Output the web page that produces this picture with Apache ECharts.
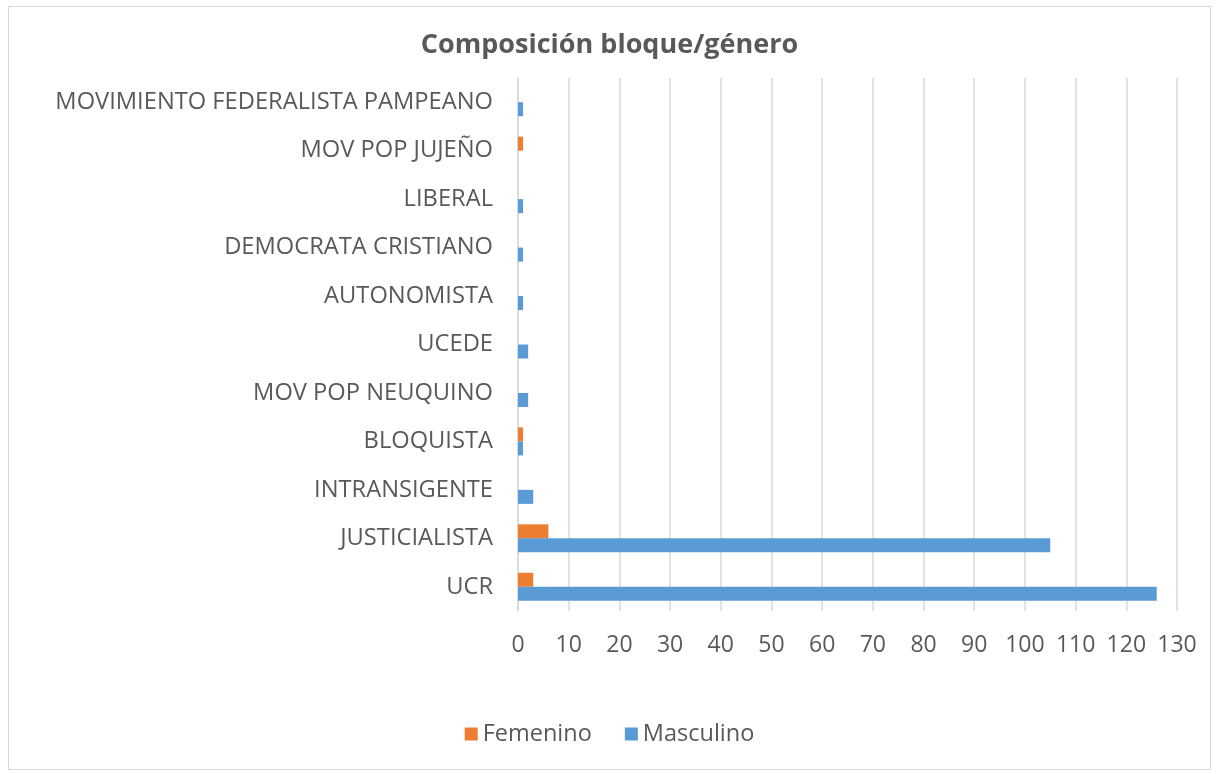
<!DOCTYPE html>
<html>
<head>
<meta charset="utf-8">
<script src="https://cdn.jsdelivr.net/npm/echarts@6/dist/echarts.min.js"></script>
<style>
    html, body { margin: 0; padding: 0; background: #fff; }
    #chart { position: absolute; left: 8px; top: 6px; width: 1203px; height: 764px; border: 1px solid #d9d9d9; box-sizing: border-box; }
</style>
</head>
<body>
<div id="chart"></div>
<script>
// 类别（从下到上）
const bloques = ['UCR', 'JUSTICIALISTA', 'INTRANSIGENTE', 'BLOQUISTA', 'MOV POP NEUQUINO', 'UCEDE',
    'AUTONOMISTA', 'DEMOCRATA CRISTIANO', 'LIBERAL', 'MOV POP JUJEÑO', 'MOVIMIENTO FEDERALISTA PAMPEANO']
const femenino = [3, 6, 0, 1, 0, 0, 0, 0, 0, 1, 0]
const masculino = [126, 105, 3, 1, 2, 2, 1, 1, 1, 0, 1]
const seriesNames = ['Femenino', 'Masculino']

const fontFamily = '"Open Sans", Lato, sans-serif'
const textColor = '#595959'
const gridColor = '#d9d9d9'

const chartIns = echarts.init(document.getElementById('chart'))
const option = {
    animation: false,
    title: {
        text: 'Composición bloque/género',
        left: 'center',
        top: 20,
        textStyle: { fontFamily, fontSize: 27, fontWeight: 'bold', color: textColor }
    },
    legend: {
        data: seriesNames,
        bottom: 18,
        left: 'center',
        icon: 'rect',
        itemWidth: 13,
        itemHeight: 13,
        itemGap: 33,
        textStyle: { fontFamily, fontSize: 23.5, color: textColor }
    },
    grid: {
        left: 509,
        right: 33,
        top: 71,
        bottom: 158
    },
    xAxis: {
        type: 'value',
        min: 0,
        max: 130,
        interval: 10,
        axisLine: { show: false },
        axisTick: { show: false },
        axisLabel: { fontFamily, fontSize: 23, color: textColor, margin: 23 },
        splitLine: { lineStyle: { color: gridColor, width: 1.5 } }
    },
    yAxis: {
        type: 'category',
        data: bloques,
        axisLine: { lineStyle: { color: gridColor, width: 1.5 } },
        axisTick: { show: false },
        axisLabel: { fontFamily, fontSize: 23.7, color: textColor, margin: 25 }
    },
    series: [
        {
            name: seriesNames[0],
            type: 'bar',
            data: femenino,
            barWidth: 14,
            barGap: '0%',
            itemStyle: { color: '#ED7D31' }
        },
        {
            name: seriesNames[1],
            type: 'bar',
            data: masculino,
            barWidth: 14,
            barGap: '0%',
            itemStyle: { color: '#5B9BD5' }
        }
    ]
}
chartIns.setOption(option)
</script>
</body>
</html>
